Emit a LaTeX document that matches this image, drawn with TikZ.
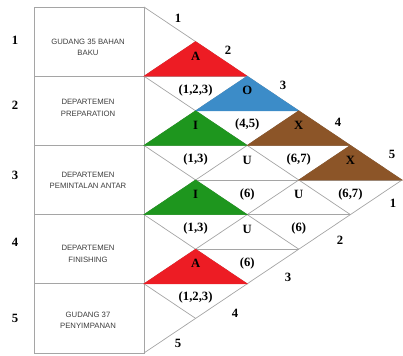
\documentclass[tikz,border=0pt]{standalone}
\usepackage{fontspec}
\setmainfont{Liberation Serif}
\newfontfamily\deptfont{Liberation Sans}
\usepackage{xcolor}
\usepackage{tikz}
\definecolor{figgrid}{RGB}{165,165,165}
\definecolor{figtext}{RGB}{60,60,60}
\definecolor{arcA}{RGB}{237,28,36}
\definecolor{arcO}{RGB}{60,140,200}
\definecolor{arcI}{RGB}{30,150,30}
\definecolor{arcX}{RGB}{140,85,40}
\tikzset{
  grd/.style ={draw=figgrid, line width=0.5pt},
  tri/.style ={line width=0.4pt, line join=miter},
  dep/.style ={font=\deptfont\fontsize{5.5}{8}\selectfont, text=figtext, align=center, inner sep=1pt},
  num/.style ={font=\fontsize{9}{10}\selectfont\bfseries, inner sep=1pt},
  lab/.style ={font=\fontsize{9}{10}\selectfont\bfseries, inner sep=1pt},
}
\begin{document}
\begin{tikzpicture}[scale=1]
  \useasboundingbox (0,0) rectangle (10.075,8.9);
  % left boxes
  \draw[grd] (0.85,0.075) rectangle (3.6,8.725);
  % horizontal lines
  \draw[grd] (0.85,6.995) -- (6.18,6.995);
  \draw[grd] (0.85,5.265) -- (8.76,5.265);
  \draw[grd] (0.85,3.535) -- (8.76,3.535);
  \draw[grd] (0.85,1.805) -- (6.18,1.805);
  \draw[grd] (4.89,6.13) -- (7.47,6.13);
  \draw[grd] (4.89,4.4) -- (10.05,4.4);
  \draw[grd] (4.89,2.67) -- (7.47,2.67);
  % outer edges
  \draw[grd] (3.6,8.725) -- (10.05,4.4) -- (3.6,0.075);
  % descending lines
  \draw[grd] (3.6,6.995) -- (8.76,3.535);
  \draw[grd] (3.6,5.265) -- (7.47,2.67);
  \draw[grd] (3.6,3.535) -- (6.18,1.805);
  \draw[grd] (3.6,1.805) -- (4.89,0.94);
  % ascending lines
  \draw[grd] (3.6,6.995) -- (4.89,7.86);
  \draw[grd] (3.6,5.265) -- (6.18,6.995);
  \draw[grd] (3.6,3.535) -- (7.47,6.13);
  \draw[grd] (3.6,1.805) -- (8.76,5.265);
  % closeness triangles
  \filldraw[tri,fill=arcA,draw=arcA] (3.6,6.995) -- (4.89,7.86) -- (6.18,6.995) -- cycle;
  \filldraw[tri,fill=arcO,draw=arcO] (4.89,6.13) -- (6.18,6.995) -- (7.47,6.13) -- cycle;
  \filldraw[tri,fill=arcI,draw=arcI] (3.6,5.265) -- (4.89,6.13) -- (6.18,5.265) -- cycle;
  \filldraw[tri,fill=arcX,draw=arcX] (6.18,5.265) -- (7.47,6.13) -- (8.76,5.265) -- cycle;
  \filldraw[tri,fill=arcX,draw=arcX] (7.47,4.4) -- (8.76,5.265) -- (10.05,4.4) -- cycle;
  \filldraw[tri,fill=arcI,draw=arcI] (3.6,3.535) -- (4.89,4.4) -- (6.18,3.535) -- cycle;
  \filldraw[tri,fill=arcA,draw=arcA] (3.6,1.805) -- (4.89,2.67) -- (6.18,1.805) -- cycle;
  % row numbers
  \node[num] (n1) at (0.375,7.9) {1};
  \node[num] (n2) at (0.375,6.275) {2};
  \node[num] (n3) at (0.375,4.525) {3};
  \node[num] (n4) at (0.375,2.85) {4};
  \node[num] (n5) at (0.375,0.95) {5};
  % departments
  \node[dep] (g1) at (2.2,7.71) {GUDANG 35 BAHAN\\BAKU};
  \node[dep] (g2) at (2.2,6.2) {DEPARTEMEN\\PREPARATION};
  \node[dep] (g3) at (2.2,4.4) {DEPARTEMEN\\PEMINTALAN ANTAR};
  \node[dep] (g4) at (2.2,2.55) {DEPARTEMEN\\FINISHING};
  \node[dep] (g5) at (2.2,0.9) {GUDANG 37\\PENYIMPANAN};
  % ratings and reasons
  \node[lab] (a12) at (4.89,7.495) {A};
  \node[lab] (r12) at (4.89,6.645) {(1,2,3)};
  \node[lab] (a13) at (6.18,6.63) {O};
  \node[lab] (r13) at (6.18,5.78) {(4,5)};
  \node[lab] (a23) at (4.89,5.765) {I};
  \node[lab] (r23) at (4.89,4.915) {(1,3)};
  \node[lab] (a14) at (7.47,5.765) {X};
  \node[lab] (r14) at (7.47,4.915) {(6,7)};
  \node[lab] (a15) at (8.76,4.9) {X};
  \node[lab] (r15) at (8.76,4.05) {(6,7)};
  \node[lab] (a24) at (6.18,4.9) {U};
  \node[lab] (r24) at (6.18,4.05) {(6)};
  \node[lab] (a25) at (7.47,4.035) {U};
  \node[lab] (r25) at (7.47,3.185) {(6)};
  \node[lab] (a34) at (4.89,4.035) {I};
  \node[lab] (r34) at (4.89,3.185) {(1,3)};
  \node[lab] (a35) at (6.18,3.17) {U};
  \node[lab] (r35) at (6.18,2.32) {(6)};
  \node[lab] (a45) at (4.89,2.305) {A};
  \node[lab] (r45) at (4.89,1.455) {(1,2,3)};
  % edge numbers
  \node[num] (t1) at (4.45,8.45) {1};
  \node[num] (t2) at (5.7,7.65) {2};
  \node[num] (t3) at (7.075,6.775) {3};
  \node[num] (t4) at (8.45,5.85) {4};
  \node[num] (t5) at (9.8,5.05) {5};
  \node[num] (b1) at (9.825,3.825) {1};
  \node[num] (b2) at (8.5,2.9) {2};
  \node[num] (b3) at (7.2,1.975) {3};
  \node[num] (b4) at (5.875,1.075) {4};
  \node[num] (b5) at (4.45,0.325) {5};
\end{tikzpicture}
\end{document}
